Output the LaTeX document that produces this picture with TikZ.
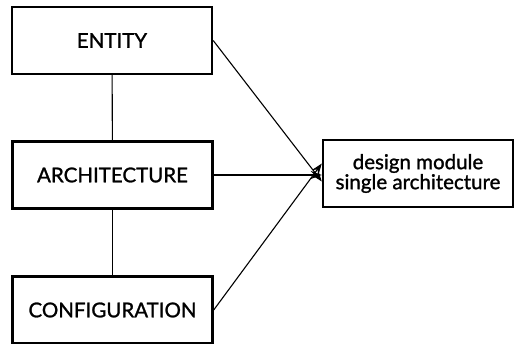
\documentclass[tikz,border=0pt]{standalone}
\usepackage{fontspec}
\setmainfont{Lato}[FakeBold=1.2]
\usetikzlibrary{arrows.meta}
\begin{document}
\begin{tikzpicture}[x=1pt,y=-1pt,
  unit/.style={draw,line width=2.4pt,minimum width=200pt,minimum height=67pt,font=\fontsize{20.5}{24}\selectfont,inner sep=0pt},
  target/.style={draw,line width=2.4pt,minimum width=190pt,minimum height=67pt,font=\fontsize{20.5}{24}\selectfont,align=center,inner sep=0pt},
  link/.style={line width=1.1pt},
  feed/.style={line width=1.1pt,-{Stealth[length=11pt,width=8pt]}}]
\useasboundingbox (0,0) rectangle (517,344);
\node[unit] (ent) at (112,40.5) {ENTITY};
\node[unit] (arch) at (112.5,175) {ARCHITECTURE};
\node[unit] (conf) at (112.5,310) {CONFIGURATION};
\node[target] (dm) at (418,173.5) {design module\\[-4pt]single architecture};
\draw[link] (ent) -- (arch);
\draw[link] (arch) -- (conf);
\draw[feed] (ent.east) -- ([yshift=-8pt]dm.west);
\draw[feed] (arch.east) -- (dm.west |- arch.east);
\draw[feed] (conf.east) -- ([yshift=10pt]dm.west);
\end{tikzpicture}
\end{document}
